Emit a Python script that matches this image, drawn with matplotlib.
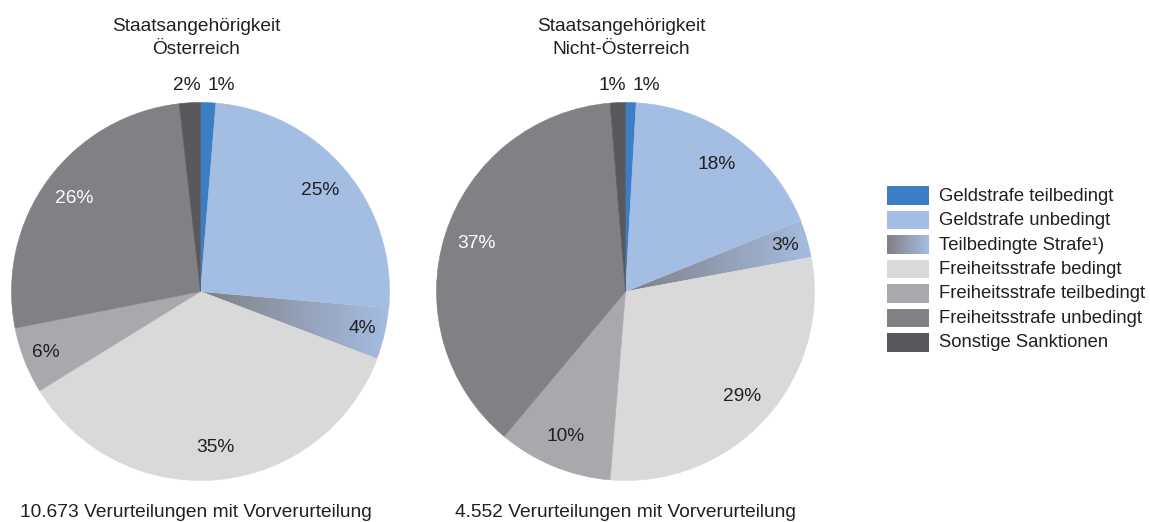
import numpy as np
import matplotlib.pyplot as plt
from matplotlib.patches import Rectangle

plt.rcParams['font.family'] = ['Liberation Sans', 'DejaVu Sans']

# Kategorien (Legende)
kategorien = ["Geldstrafe teilbedingt", "Geldstrafe unbedingt", "Teilbedingte Strafe¹)",
              "Freiheitsstrafe bedingt", "Freiheitsstrafe teilbedingt",
              "Freiheitsstrafe unbedingt", "Sonstige Sanktionen"]

# Anteile in Prozent
werte_oe = [1.3, 25.1, 4.4, 35.4, 5.7, 26.3, 1.8]
werte_nicht_oe = [0.9, 18.0, 3.2, 29.2, 9.8, 37.6, 1.3]
labels_oe = ["1%", "25%", "4%", "35%", "6%", "26%", "2%"]
labels_nicht_oe = ["1%", "18%", "3%", "29%", "10%", "37%", "1%"]

titel = [("Staatsangehörigkeit", "Österreich"), ("Staatsangehörigkeit", "Nicht-Österreich")]
fusszeile = ["10.673 Verurteilungen mit Vorverurteilung",
             "4.552 Verurteilungen mit Vorverurteilung"]

farben = ["#3b7ec6", "#a3bde3", "none", "#d9d9da", "#a9a9ad", "#818185", "#58585d"]
label_farben = ["#231f20"] * 5 + ["#ffffff", "#231f20"]
grad_links = np.array([0x80, 0x80, 0x85]) / 255
grad_rechts = np.array([0xa6, 0xbd, 0xe2]) / 255
text_farbe = "#231f20"
fs = 13.8

W, H = 1150, 522
fig = plt.figure(figsize=(W / 100, H / 100), dpi=100)


def gradient(n=256):
    t = np.linspace(0, 1, n)[None, :, None]
    return grad_links + (grad_rechts - grad_links) * t


def torte(x0, werte, labels, tit, fuss, fuss_x):
    # Achse in Pixelkoordinaten: Radius ~189 px
    ax = fig.add_axes([x0 / W, (H - 480.5) / H, 378 / W, 378 / H])
    wedges, _ = ax.pie(werte, colors=farben, startangle=90, counterclock=False,
                       radius=1, wedgeprops=dict(linewidth=0))
    for w, c in zip(wedges, farben):
        if c != "none":
            w.set_edgecolor(c)
            w.set_linewidth(0.4)
    # Teilbedingte Strafe mit Farbverlauf
    g = ax.imshow(gradient(), extent=(0, 1, -1, 1), aspect='auto', zorder=0.5)
    g.set_clip_path(wedges[2])
    ax.set_xlim(-1, 1)
    ax.set_ylim(-1, 1)
    ax.set_aspect('equal')
    ax.axis('off')

    for i, (w, lab) in enumerate(zip(wedges, labels)):
        mitte = np.deg2rad((w.theta1 + w.theta2) / 2)
        if werte[i] < 2.5:
            ha = 'left' if np.cos(mitte) > 0 else 'right'
            x = 0.035 if ha == 'left' else -0.0
            ax.text(x, 1.09, lab, ha=ha, va='center', fontsize=fs, color=text_farbe)
        else:
            r = 0.88 if werte[i] < 7 else 0.83
            ax.text(r * np.cos(mitte), r * np.sin(mitte), lab, ha='center',
                    va='center', fontsize=fs, color=label_farben[i])

    cx = (x0 + 185) / W
    fig.text(cx, 1 - 31 / H, tit[0], ha='center', va='baseline', fontsize=fs,
             color=text_farbe)
    fig.text(cx, 1 - 54 / H, tit[1], ha='center', va='baseline', fontsize=fs,
             color=text_farbe)
    fig.text(fuss_x / W, 1 - 517 / H, fuss, ha='left', va='baseline',
             fontsize=fs, color=text_farbe)


torte(11.5, werte_oe, labels_oe, titel[0], fusszeile[0], 20.5)
torte(436.5, werte_nicht_oe, labels_nicht_oe, titel[1], fusszeile[1], 455)

# Legende
lg = fig.add_axes([887 / W, (H - 356) / H, 263 / W, 170 / H])
lg.axis('off')
for i, (name, c) in enumerate(zip(kategorien, farben)):
    y = 0.3 + i * 24.45
    if c == "none":
        lg.imshow(gradient(), extent=(0, 42, y + 18.7, y), aspect='auto')
    else:
        lg.add_patch(Rectangle((0, y), 42, 18.7, facecolor=c, edgecolor='none'))
    lg.text(52, y + 9.8, name, ha='left', va='center', fontsize=13.3, color=text_farbe)
lg.set_xlim(0, 263)
lg.set_ylim(170, 0)

fig.savefig("out.png", dpi=100)
